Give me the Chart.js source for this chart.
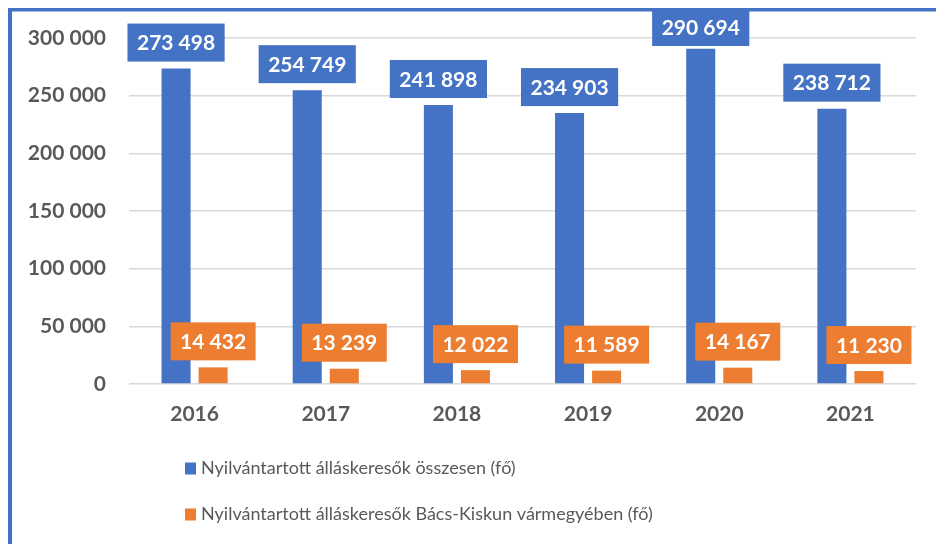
<!DOCTYPE html>
<html>
<head>
<meta charset="utf-8">
<script src="https://cdn.jsdelivr.net/npm/chart.js@4/dist/chart.umd.min.js"></script>
<style>
  html, body { margin: 0; padding: 0; background: #ffffff; }
  #wrap { position: relative; width: 936px; height: 544px; }
</style>
</head>
<body>
<div id="wrap"><canvas id="c" width="936" height="544"></canvas></div>
<script>
const years = ['2016', '2017', '2018', '2019', '2020', '2021'];
const totalSeekers = [273498, 254749, 241898, 234903, 290694, 238712];
const bacsKiskunSeekers = [14432, 13239, 12022, 11589, 14167, 11230];
const seriesNames = [
  'Nyilvántartott álláskeresők összesen (fő)',
  'Nyilvántartott álláskeresők Bács-Kiskun vármegyében (fő)'
];
const yTicks = [0, 50000, 100000, 150000, 200000, 250000, 300000];

const BLUE = '#4472C4';
const ORANGE = '#ED7D31';
const GREY = '#595959';
const FONT = 'Lato, "Open Sans", sans-serif';

function fmt(v) {
  return String(Math.round(v)).replace(/\B(?=(\d{3})+(?!\d))/g, ' ');
}

const labelPlugin = {
  id: 'boxLabels',
  afterDatasetsDraw(chart) {
    const ctx = chart.ctx;
    ctx.save();
    ctx.font = 'bold 21px ' + FONT;
    ctx.textAlign = 'center';
    ctx.textBaseline = 'middle';
    chart.data.datasets.forEach((ds, di) => {
      const meta = chart.getDatasetMeta(di);
      meta.data.forEach((bar, i) => {
        const txt = fmt(ds.data[i]);
        const w = ctx.measureText(txt).width + 19;
        const h = 38;
        let top = bar.y - 7 - h;
        if (top < 8) top = 8;
        ctx.fillStyle = ds.backgroundColor;
        ctx.fillRect(bar.x - w / 2, top, w, h);
        ctx.fillStyle = '#ffffff';
        ctx.fillText(txt, bar.x, top + h / 2 + 1);
      });
    });
    ctx.restore();
  },
  afterDraw(chart) {
    const ctx = chart.ctx;
    ctx.save();
    // legend
    ctx.font = '18px ' + FONT;
    ctx.textAlign = 'left';
    ctx.textBaseline = 'middle';
    const items = [[seriesNames[0], BLUE, 468.5], [seriesNames[1], ORANGE, 514.5]];
    items.forEach(([t, c, y]) => {
      ctx.fillStyle = c;
      ctx.fillRect(185, y - 6, 11, 12);
      ctx.fillStyle = GREY;
      ctx.fillText(t, 201, y);
    });
    // frame
    ctx.fillStyle = BLUE;
    ctx.fillRect(8, 8, 4, 544);
    ctx.fillRect(8, 8, 936, 3.5);
    ctx.restore();
  }
};

new Chart(document.getElementById('c'), {
  type: 'bar',
  data: {
    labels: years,
    datasets: [
      { label: seriesNames[0], data: totalSeekers, backgroundColor: BLUE, categoryPercentage: 0.565, barPercentage: 0.784 },
      { label: seriesNames[1], data: bacsKiskunSeekers, backgroundColor: ORANGE, categoryPercentage: 0.565, barPercentage: 0.784 }
    ]
  },
  options: {
    responsive: false,
    animation: false,
    devicePixelRatio: 1,
    layout: { padding: { top: 38, right: 20, left: 0, bottom: 0 } },
    plugins: { legend: { display: false }, tooltip: { enabled: false } },
    scales: {
      x: {
        grid: { display: false, drawTicks: false },
        border: { display: false },
        ticks: { color: GREY, font: { family: FONT, size: 21, weight: 'bold' }, padding: 18 },
        afterFit(s) { s.height = 160; }
      },
      y: {
        min: 0, max: 300000,
        afterBuildTicks(s) { s.ticks = yTicks.map(v => ({ value: v })); },
        grid: { color: '#D9D9D9', lineWidth: 1.5, drawTicks: false },
        border: { display: false },
        ticks: { color: GREY, font: { family: FONT, size: 21, weight: 'bold' }, padding: 23, callback: v => fmt(v) },
        afterFit(s) { s.width = 129; }
      }
    }
  },
  plugins: [labelPlugin]
});
</script>
</body>
</html>
